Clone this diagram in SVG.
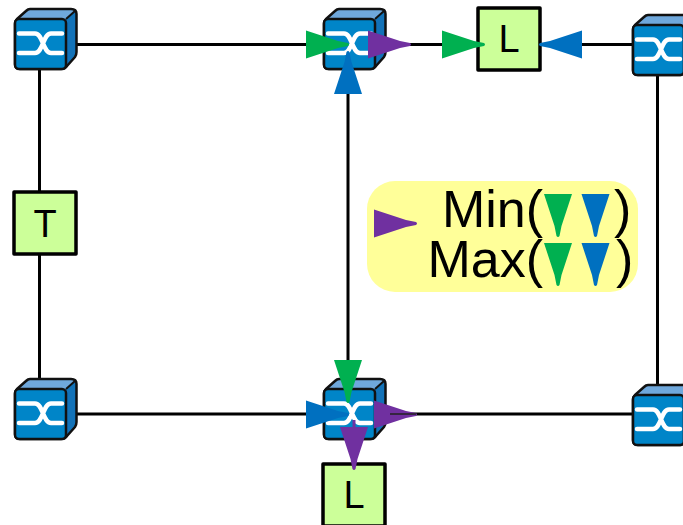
<svg xmlns="http://www.w3.org/2000/svg" xmlns:xlink="http://www.w3.org/1999/xlink" width="683" height="525" viewBox="0 0 683 525">
<style>
.w{stroke:#000;stroke-width:3;fill:none}
.box{fill:#ccff99;stroke:#000;stroke-width:3.500;stroke-linejoin:round}
.t{font-family:"Liberation Sans",Arial,sans-serif;fill:#000;text-anchor:middle}
.lt{font-size:38px}
.big{font-size:52px}
.g{fill:#00b050}.b{fill:#0070c0}.p{fill:#7030a0}
</style>
<defs>
<g id="sw">
<path d="M2 15 L11 6 Q13 5 15 5 L57 5 Q61 5 61 9 L52 16 L2 19Z" fill="#6fa8dc"/>
<path d="M51 15 L60 6 Q62 6 61.500 10 L61.500 48 Q61.500 51 60 53 L51 63Z" fill="#1272b8"/>
<path d="M15 5 L56 5 Q61.500 5 61.500 10 L61.500 48 Q61.500 51 60 53 L52 62 Q50 65 46 65 L5 65 Q0 65 0 60 L0 20 Q0 17 2 15 L11 7 Q13 5 15 5Z" fill="none" stroke="#111" stroke-width="2.500" stroke-linejoin="round"/>
<rect x="0" y="15" width="51" height="50" rx="4" fill="#0085c8" stroke="#111" stroke-width="2.500"/>
<path d="M51 15 L60 7" stroke="#111" stroke-width="2"/>
<path d="M4 29.500 H20 C28 29.500 28 49 36 49 H47 M4 49 H20 C28 49 28 29.500 36 29.500 H47" fill="none" stroke="#fff" stroke-width="4.500" stroke-linecap="round"/>
</g>
<path id="ar" d="M0 -14 L32 -3.500 L42 -1.500 Q44 0 42 1.500 L32 3.500 L0 14Z"/>
</defs>

<g id="connectors">
<path class="w" d="M76 44.500H330M390 44.500H478M540 44.500H634"/>
<path class="w" d="M39.500 68V192M39.500 254V380"/>
<path class="w" d="M348 90V380"/>
<path class="w" d="M76 414H324M380 414H634"/>
<path class="w" d="M657.500 74V386"/>
</g>

<g id="node-sw-tl"><use xlink:href="#sw" transform="translate(15 4)"/></g>
<g id="node-sw-tm"><use xlink:href="#sw" transform="translate(324 4)"/></g>
<g id="node-sw-tr"><use xlink:href="#sw" transform="translate(633 10)"/></g>
<g id="node-sw-bl"><use xlink:href="#sw" transform="translate(15 374)"/></g>
<g id="node-sw-bm"><use xlink:href="#sw" transform="translate(324 374)"/></g>
<g id="node-sw-br"><use xlink:href="#sw" transform="translate(633 380)"/></g>

<g id="node-l-top"><rect class="box" x="478" y="8" width="62" height="62"/><text class="t lt" x="509" y="52">L</text></g>
<g id="node-t"><rect class="box" x="14" y="192" width="62" height="62"/><text class="t lt" x="45" y="237">T</text></g>
<g id="node-l-bot"><rect class="box" x="323" y="464" width="62" height="62"/><text class="t lt" x="354" y="508">L</text></g>

<g id="arrowheads">
<use xlink:href="#ar" class="g" transform="translate(306 44.500)"/>
<use xlink:href="#ar" class="p" transform="translate(368 44.500)"/>
<use xlink:href="#ar" class="g" transform="translate(442 44.500)"/>
<use xlink:href="#ar" class="b" transform="translate(582 44.500) rotate(180)"/>
<use xlink:href="#ar" class="b" transform="translate(348 94) rotate(-90)"/>
<use xlink:href="#ar" class="g" transform="translate(348 360) rotate(90)"/>
<use xlink:href="#ar" class="b" transform="translate(306 414.500)"/>
<use xlink:href="#ar" class="p" transform="translate(374 414.500)"/>
<path d="M354 420V430" stroke="#7030a0" stroke-width="3"/>
<use xlink:href="#ar" class="p" transform="translate(354 427) rotate(90)"/>
</g>
<path d="M390 414H416" stroke="#222" stroke-width="1.500" fill="none"/>

<g id="legend">
<rect x="367" y="181" width="271" height="111" rx="28" fill="#ffff99"/>
<use xlink:href="#ar" class="p" transform="translate(374 223.500)"/>
<text class="t big" x="543" y="227" style="text-anchor:end">Min(</text>
<text class="t big" x="614" y="227" style="text-anchor:start">)</text>
<text class="t big" x="543" y="277" style="text-anchor:end">Max(</text>
<text class="t big" x="616" y="277" style="text-anchor:start">)</text>
<use xlink:href="#ar" class="g" transform="translate(558 194) rotate(90)"/>
<use xlink:href="#ar" class="b" transform="translate(595.500 194) rotate(90)"/>
<use xlink:href="#ar" class="g" transform="translate(558 243) rotate(90)"/>
<use xlink:href="#ar" class="b" transform="translate(595.500 243) rotate(90)"/>
</g>
</svg>
